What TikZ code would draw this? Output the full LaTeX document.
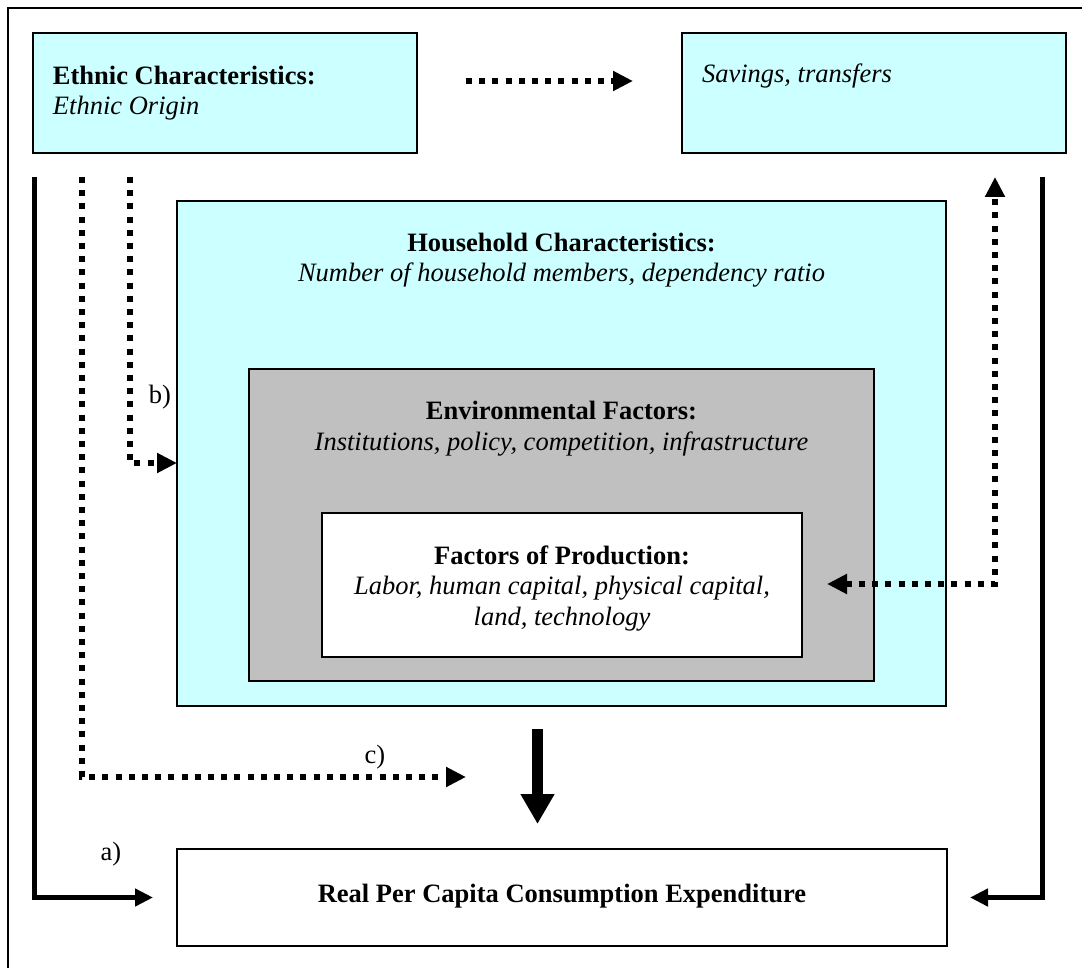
\documentclass[tikz,border=0pt]{standalone}
\usepackage{fontspec}
\setmainfont{Liberation Serif}
\usetikzlibrary{arrows.meta}
\definecolor{paleCyan}{HTML}{CCFFFF}
\definecolor{envGray}{HTML}{C0C0C0}
\begin{document}
\begin{tikzpicture}[x=0.5pt,y=-0.5pt,
    every node/.style={font=\fontsize{13.25}{15.25}\selectfont, inner sep=0pt, outer sep=0pt},
    box/.style={draw, line width=1.1pt, rectangle, anchor=north west},
    txt/.style={anchor=base, align=center},
    solidarrow/.style={line width=2.5pt, -{Triangle[length=9pt,width=8.5pt]}},
    dotarrow/.style={line width=3pt, dash pattern=on 3pt off 3.6pt, -{Triangle[length=10pt,width=9.5pt]}},
    dotboth/.style={dotarrow, {Triangle[length=10pt,width=9.5pt]}-{Triangle[length=10pt,width=9.5pt]}}]
  \useasboundingbox (0,0) rectangle (1082,968);
  \clip (0,0) rectangle (1082,968);
  \draw[line width=1.25pt] (8,8) rectangle (1090,990);
  \draw
    (33,33) node[box, fill=paleCyan, minimum width=192pt, minimum height=60pt] (ethnic){}
    (682,33) node[box, fill=paleCyan, minimum width=192pt, minimum height=60pt] (savings){}
    (177,201) node[box, fill=paleCyan, minimum width=384.5pt, minimum height=252.5pt] (house){}
    (249,369) node[box, fill=envGray, minimum width=312.5pt, minimum height=156pt] (env){}
    (322,513) node[box, fill=white, minimum width=240pt, minimum height=72pt] (fop){}
    (177,849) node[box, fill=white, minimum width=385pt, minimum height=48.5pt] (real){};
  \node[anchor=base west, align=left] (ethnicT) at (53,115)
    {\textbf{Ethnic Characteristics:}\\\textit{Ethnic Origin}};
  \node[anchor=base west] (savingsT) at (702,83) {\textit{Savings, transfers}};
  \node[txt] (houseT) at (561.5,282)
    {\textbf{Household Characteristics:}\\\textit{Number of household members, dependency ratio}};
  \node[txt] (envT) at (561.5,450)
    {\textbf{Environmental Factors:}\\\textit{Institutions, policy, competition, infrastructure}};
  \node[txt] (fopT) at (562,625)
    {\textbf{Factors of Production:}\\\textit{Labor, human capital, physical capital,}\\\textit{land, technology}};
  \node[txt] (realT) at (562,902) {\textbf{Real Per Capita Consumption Expenditure}};
  \node[txt] (labA) at (111,860) {a)};
  \node[txt] (labB) at (160,403) {b)};
  \node[txt] (labC) at (375,763) {c)};
  \coordinate (aTop) at (34,177);
  \coordinate (rTop) at (1042,177);
  \coordinate (bTop) at (130,177);
  \coordinate (bTurn) at (130,463);
  \coordinate (cTop) at (82,177);
  \coordinate (cEnd) at (466,777);
  \coordinate (topStart) at (466,81);
  \coordinate (topEnd) at (633,81);
  \coordinate (sUp) at (995,177);
  \coordinate (sTurn) at (995,584);
  \coordinate (sLeft) at (827,584);
  \coordinate (flowTop) at (537.5,729);
  \coordinate (flowEnd) at (537.5,824);
  \begin{scope}[line cap=butt]
    \draw[solidarrow] (aTop) |- ([xshift=-12pt]real.west);
    \draw[solidarrow] (rTop) |- ([xshift=11.5pt]real.east);
    \draw[dotarrow] (topStart) -- (topEnd);
    \draw[dotarrow] (bTop) -- (bTurn) -- (bTurn -| house.west);
    \draw[dotarrow] (cTop) |- (cEnd);
    \draw[dotboth] (sLeft) -- (sTurn) -- (sUp);
    \draw[line width=5.5pt, -{Triangle[length=15pt,width=16pt]}] (flowTop) -- (flowEnd);
  \end{scope}
\end{tikzpicture}
\end{document}
